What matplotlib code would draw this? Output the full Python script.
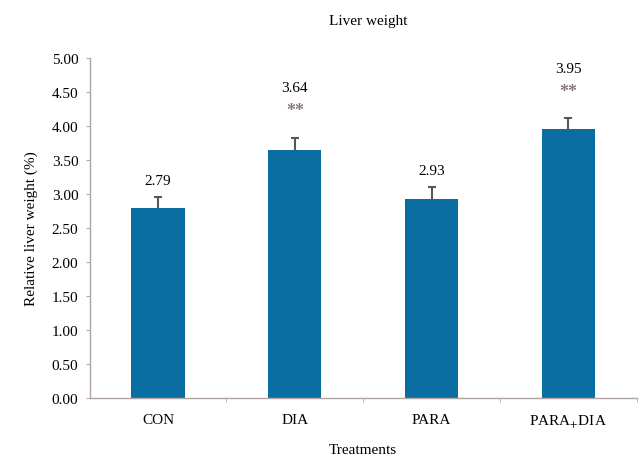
import matplotlib
matplotlib.use("Agg")
import matplotlib.pyplot as plt
from matplotlib.ticker import FixedLocator

plt.rcParams['font.family'] = ['Liberation Serif', 'DejaVu Serif']
plt.rcParams['mathtext.fontset'] = 'stix'

# data
groups = ["CON", "DIA", "PARA", "PARA$_{+}$DIA"]
means = [2.79, 3.64, 2.93, 3.95]
errs = [0.16, 0.18, 0.17, 0.16]
stars = ["", "**", "", "**"]

fig = plt.figure(figsize=(6.4, 4.56), dpi=100)
ax = fig.add_axes([0.14, 0.125, 0.855, 0.746])

x = list(range(len(groups)))
# error bars sit behind the bars so only the upper half shows
ax.errorbar(x, means, yerr=errs, fmt="none", ecolor="#5e5656",
            elinewidth=1.5, capsize=3, capthick=1.5, zorder=1)
ax.bar(x, means, width=0.39, color="#0b6ea2", zorder=2)

for xi, m, e, s in zip(x, means, errs, stars):
    if s:
        ax.text(xi, m + e + 0.40, s, ha="center", va="center", fontsize=13,
                color="#857a7a", fontweight="bold")
        ax.text(xi, m + e + 0.74, f"{m:.2f}", ha="center", va="center", fontsize=11)
    else:
        ax.text(xi, m + e + 0.25, f"{m:.2f}", ha="center", va="center", fontsize=11)

ax.set_xlim(-0.5, 3.5)
ax.set_ylim(0, 5)
ax.set_xticks(x)
ax.set_xticklabels(groups, fontsize=11)
ax.xaxis.set_minor_locator(FixedLocator([0.5, 1.5, 2.5, 3.5]))
ax.tick_params(axis="x", which="major", length=0, pad=11)
ax.tick_params(axis="x", which="minor", length=3, color="#b5a8a8")
ax.set_yticks([i * 0.5 for i in range(11)])
ax.set_yticklabels([f"{i * 0.5:.2f}" for i in range(11)], fontsize=11)
ax.tick_params(axis="y", length=3, color="#b5a8a8", pad=5)

for side in ["top", "right"]:
    ax.spines[side].set_visible(False)
for side in ["left", "bottom"]:
    ax.spines[side].set_color("#b0a3a3")
    ax.spines[side].set_linewidth(1.0)

ax.set_title("Liver weight", fontsize=11, pad=24, x=0.51)
ax.set_xlabel("Treatments", fontsize=11, labelpad=9)
ax.set_ylabel("Relative liver weight (%)", fontsize=11, labelpad=10)

fig.savefig("out.png", dpi=100)
